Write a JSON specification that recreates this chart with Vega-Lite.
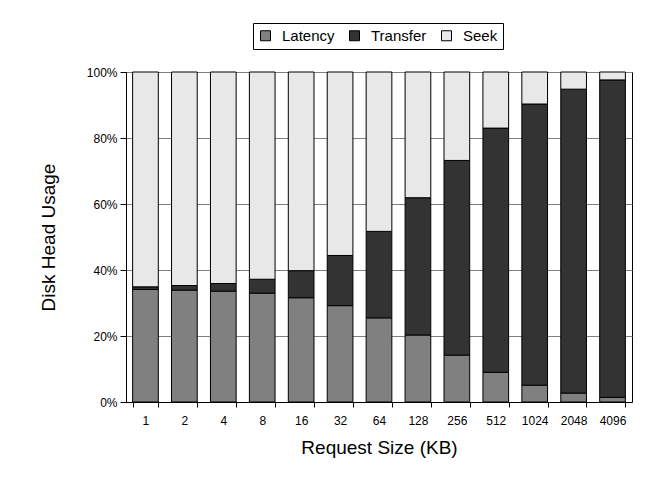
{
  "$schema": "https://vega.github.io/schema/vega-lite/v6.json",
  "width": 506,
  "height": 330,
  "autosize": "none",
  "padding": {"left": 126, "top": 72, "right": 18, "bottom": 87},
  "background": "white",
  "config": {
    "font": "Liberation Sans",
    "view": {"stroke": "black", "strokeWidth": 1}
  },
  "data": {
    "values": [
      {"size": "1", "component": "Latency", "ord": 0, "value": 34.1},
      {"size": "1", "component": "Transfer", "ord": 1, "value": 0.8},
      {"size": "1", "component": "Seek", "ord": 2, "value": 65.1},
      {"size": "2", "component": "Latency", "ord": 0, "value": 33.9},
      {"size": "2", "component": "Transfer", "ord": 1, "value": 1.4},
      {"size": "2", "component": "Seek", "ord": 2, "value": 64.7},
      {"size": "4", "component": "Latency", "ord": 0, "value": 33.6},
      {"size": "4", "component": "Transfer", "ord": 1, "value": 2.3},
      {"size": "4", "component": "Seek", "ord": 2, "value": 64.1},
      {"size": "8", "component": "Latency", "ord": 0, "value": 33.0},
      {"size": "8", "component": "Transfer", "ord": 1, "value": 4.2},
      {"size": "8", "component": "Seek", "ord": 2, "value": 62.8},
      {"size": "16", "component": "Latency", "ord": 0, "value": 31.6},
      {"size": "16", "component": "Transfer", "ord": 1, "value": 8.2},
      {"size": "16", "component": "Seek", "ord": 2, "value": 60.2},
      {"size": "32", "component": "Latency", "ord": 0, "value": 29.2},
      {"size": "32", "component": "Transfer", "ord": 1, "value": 15.2},
      {"size": "32", "component": "Seek", "ord": 2, "value": 55.6},
      {"size": "64", "component": "Latency", "ord": 0, "value": 25.5},
      {"size": "64", "component": "Transfer", "ord": 1, "value": 26.2},
      {"size": "64", "component": "Seek", "ord": 2, "value": 48.3},
      {"size": "128", "component": "Latency", "ord": 0, "value": 20.3},
      {"size": "128", "component": "Transfer", "ord": 1, "value": 41.6},
      {"size": "128", "component": "Seek", "ord": 2, "value": 38.1},
      {"size": "256", "component": "Latency", "ord": 0, "value": 14.2},
      {"size": "256", "component": "Transfer", "ord": 1, "value": 59.0},
      {"size": "256", "component": "Seek", "ord": 2, "value": 26.8},
      {"size": "512", "component": "Latency", "ord": 0, "value": 9.0},
      {"size": "512", "component": "Transfer", "ord": 1, "value": 74.0},
      {"size": "512", "component": "Seek", "ord": 2, "value": 17.0},
      {"size": "1024", "component": "Latency", "ord": 0, "value": 5.1},
      {"size": "1024", "component": "Transfer", "ord": 1, "value": 85.2},
      {"size": "1024", "component": "Seek", "ord": 2, "value": 9.7},
      {"size": "2048", "component": "Latency", "ord": 0, "value": 2.7},
      {"size": "2048", "component": "Transfer", "ord": 1, "value": 92.1},
      {"size": "2048", "component": "Seek", "ord": 2, "value": 5.2},
      {"size": "4096", "component": "Latency", "ord": 0, "value": 1.4},
      {"size": "4096", "component": "Transfer", "ord": 1, "value": 96.2},
      {"size": "4096", "component": "Seek", "ord": 2, "value": 2.4}
    ]
  },
  "mark": {"type": "bar", "stroke": "black", "strokeWidth": 1},
  "encoding": {
    "x": {
      "field": "size",
      "type": "ordinal",
      "sort": null,
      "scale": {"paddingInner": 0.34, "paddingOuter": 0.17},
      "axis": {
        "title": "Request Size (KB)",
        "labelAngle": 0,
        "tickBand": "extent",
        "grid": false,
        "domainColor": "black",
        "tickColor": "black",
        "tickSize": 5,
        "labelColor": "black",
        "labelFontSize": 12,
        "labelPadding": 8,
        "titleColor": "black",
        "titleFontSize": 19,
        "titleFontWeight": "normal",
        "titlePadding": 12
      }
    },
    "y": {
      "field": "value",
      "type": "quantitative",
      "stack": "normalize",
      "scale": {"domain": [0, 1]},
      "axis": {
        "title": "Disk Head Usage",
        "format": ".0%",
        "values": [0, 0.2, 0.4, 0.6, 0.8, 1],
        "grid": true,
        "gridColor": "#808080",
        "gridWidth": 1,
        "domainColor": "black",
        "tickColor": "black",
        "tickSize": 6,
        "labelColor": "black",
        "labelFontSize": 12,
        "labelPadding": 3,
        "titleColor": "black",
        "titleFontSize": 19,
        "titleFontWeight": "normal",
        "titlePadding": 28
      }
    },
    "color": {
      "field": "component",
      "type": "nominal",
      "scale": {
        "domain": ["Latency", "Transfer", "Seek"],
        "range": ["#808080", "#333333", "#e8e8e8"]
      },
      "legend": {
        "title": null,
        "orient": "none",
        "legendX": 127,
        "legendY": -49,
        "direction": "horizontal",
        "symbolType": "square",
        "symbolSize": 100,
        "symbolStrokeColor": "black",
        "symbolStrokeWidth": 1,
        "symbolOpacity": 1,
        "labelFontSize": 15,
        "labelColor": "black",
        "labelOffset": 9,
        "columnPadding": 12,
        "strokeColor": "black",
        "fillColor": "white",
        "padding": 5
      }
    },
    "order": {"field": "ord", "type": "quantitative"}
  }
}
